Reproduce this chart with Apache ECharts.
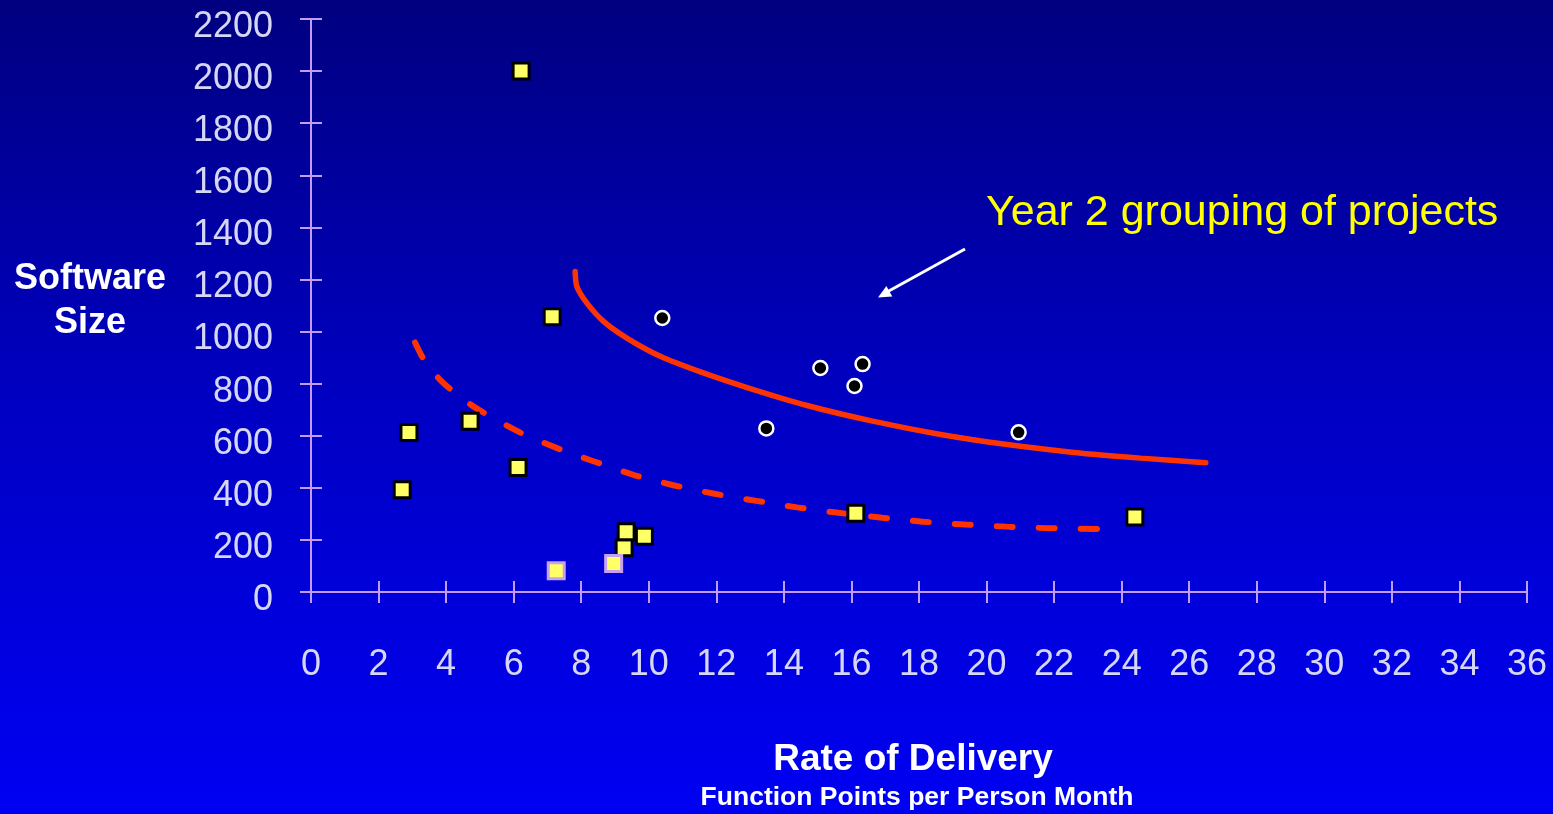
<!DOCTYPE html>
<html>
<head>
<meta charset="utf-8">
<script src="https://cdn.jsdelivr.net/npm/echarts@6/dist/echarts.min.js"></script>
<style>
html,body{margin:0;padding:0;overflow:hidden;background:#0000c0;}
#c{width:1553px;height:814px;}
</style>
</head>
<body>
<div id="c"></div>
<script>
// ---- data ----
const xMin = 0, xMax = 36, xStep = 2;
const yMin = 0, yMax = 2200, yStep = 200;

// yellow squares with black border (projects)
const yellowSquares = [
  [9.27, 170], [6.22, 2000], [7.14, 1057], [2.90, 612], [4.71, 656], [2.70, 393],
  [6.13, 478], [9.33, 231], [9.87, 214], [16.13, 302], [24.39, 288]
];
// yellow squares with lavender border
const paleSquares = [[7.26, 82], [8.96, 109]];
// Year 2 projects (black dots with white ring)
const year2Dots = [[10.40, 1052], [15.08, 860], [16.33, 875], [16.09, 791], [13.48, 628], [20.95, 613]];

// solid red trend (Year 2)
const year2Curve = [
  [7.82, 1231], [7.87, 1173], [8.17, 1109], [8.66, 1039], [9.35, 975], [10.34, 905],
  [11.53, 845], [12.91, 785], [14.69, 716], [16.66, 655], [18.64, 605], [20.61, 566],
  [22.59, 536], [24.56, 514], [26.49, 496]
];
// dashed red trend (earlier projects)
const year1Curve = [
  [3.08, 958], [3.33, 895], [3.77, 822], [4.17, 774], [4.71, 721], [5.21, 681],
  [5.80, 639], [6.29, 606], [6.91, 572], [7.43, 545], [8.07, 515], [8.61, 491],
  [9.54, 450], [10.73, 410], [11.91, 378], [13.18, 350], [14.39, 325], [15.62, 304],
  [16.91, 285], [18.12, 270], [19.36, 259], [20.59, 251], [21.85, 245], [23.41, 242]
];

const yAxisTitle = 'Software\nSize';
const xAxisTitle = 'Rate of Delivery';
const xAxisSubTitle = 'Function Points per Person Month';
const annotation = 'Year 2 grouping of projects';

// ---- styling ----
const FONT = '"Liberation Sans", Arial, Helvetica, sans-serif';
const axisColor = '#c39cf6';
const labelColor = '#d6d6f6';
const red = '#ff3300';

function makeX(gridIndex, main) {
  return {
    gridIndex, type: 'value', min: xMin, max: xMax, interval: xStep,
    axisLine: { show: true, onZero: false, lineStyle: { color: axisColor, width: 2 } },
    axisTick: { show: true, inside: !main, length: 11, lineStyle: { color: axisColor, width: 2 } },
    axisLabel: { show: main, color: labelColor, fontSize: 36, fontFamily: FONT, margin: 55,
                 formatter: v => String(v) },
    splitLine: { show: false }
  };
}
function makeY(gridIndex, main) {
  return {
    gridIndex, type: 'value', min: yMin, max: yMax, interval: yStep,
    axisLine: { show: true, onZero: false, lineStyle: { color: axisColor, width: 2 } },
    axisTick: { show: true, inside: !main, length: 11, lineStyle: { color: axisColor, width: 2 } },
    axisLabel: { show: main, color: labelColor, fontSize: 36, fontFamily: FONT, margin: 38,
                 verticalAlign: 'top', lineHeight: 16, formatter: v => String(v) },
    splitLine: { show: false }
  };
}

const gridRect = { left: 311, right: 26, top: 19, bottom: 222, containLabel: false, outerBoundsMode: 'none' };

const chart = echarts.init(document.getElementById('c'), null, { renderer: 'canvas' });
chart.setOption({
  animation: false,
  backgroundColor: {
    type: 'linear', x: 0, y: 0, x2: 0, y2: 1,
    colorStops: [
      { offset: 0, color: '#000080' },
      { offset: 0.5, color: '#0000c4' },
      { offset: 1, color: '#0000f4' }
    ]
  },
  grid: [Object.assign({}, gridRect), Object.assign({}, gridRect)],
  xAxis: [makeX(0, true), makeX(1, false)],
  yAxis: [makeY(0, true), makeY(1, false)],
  series: [
    {
      type: 'line', name: 'year1', data: year1Curve, xAxisIndex: 0, yAxisIndex: 0,
      showSymbol: false, smooth: 0.25, z: 2,
      lineStyle: { color: red, width: 6, type: [16, 26], cap: 'round' }
    },
    {
      type: 'line', name: 'year2', data: year2Curve, xAxisIndex: 0, yAxisIndex: 0,
      showSymbol: false, smooth: 0.25, z: 2,
      lineStyle: { color: red, width: 5.5, cap: 'round' }
    },
    {
      type: 'scatter', data: yellowSquares, xAxisIndex: 0, yAxisIndex: 0, z: 3,
      symbol: 'rect', symbolSize: 16,
      itemStyle: { color: '#ffff66', borderColor: '#000000', borderWidth: 3, opacity: 1 }
    },
    {
      type: 'scatter', data: paleSquares, xAxisIndex: 0, yAxisIndex: 0, z: 4,
      symbol: 'rect', symbolSize: 16,
      itemStyle: { color: '#ffff66', borderColor: '#c8a0f0', borderWidth: 3, opacity: 1 }
    },
    {
      type: 'scatter', data: year2Dots, xAxisIndex: 0, yAxisIndex: 0, z: 4,
      symbol: 'circle', symbolSize: 14,
      itemStyle: { color: '#000000', borderColor: '#ffffff', borderWidth: 2.5, opacity: 1 }
    }
  ],
  graphic: [
    { type: 'text', style: { text: yAxisTitle, x: 90, y: 301, textAlign: 'center', textVerticalAlign: 'middle',
        font: 'bold 36px ' + FONT, lineHeight: 44, fill: '#ffffff' } },
    { type: 'text', style: { text: xAxisTitle, x: 913, y: 760, textAlign: 'center', textVerticalAlign: 'middle',
        font: 'bold 37px ' + FONT, fill: '#ffffff' } },
    { type: 'text', style: { text: xAxisSubTitle, x: 917, y: 798, textAlign: 'center', textVerticalAlign: 'middle',
        font: 'bold 26.5px ' + FONT, fill: '#ffffff' } },
    { type: 'text', style: { text: annotation, x: 986, y: 213, textAlign: 'left', textVerticalAlign: 'middle',
        font: '43px ' + FONT, fill: '#ffff00' } },
    { type: 'line', shape: { x1: 965, y1: 249, x2: 887, y2: 292 }, style: { stroke: '#ffffff', lineWidth: 3 } },
    { type: 'polygon', shape: { points: [[878, 297.5], [892.3, 296.4], [886.4, 286.0]] }, style: { fill: '#ffffff' } }
  ]
});
</script>
</body>
</html>
